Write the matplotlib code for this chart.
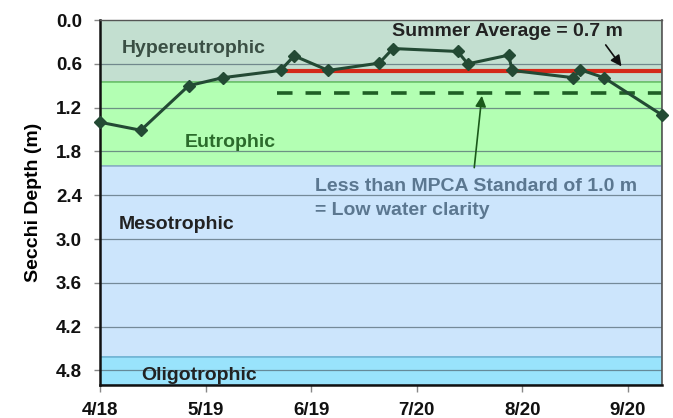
import numpy as np
import pandas as pd
import matplotlib
matplotlib.use("Agg")
import matplotlib.pyplot as plt

plt.rcParams['font.family'] = ['Liberation Sans', 'DejaVu Sans']
plt.rcParams['font.weight'] = 'bold'

# sample dates and secchi depths (m)
dates = pd.to_datetime(['2010-04-18', '2010-04-30', '2010-05-14', '2010-05-24',
                        '2010-06-10', '2010-06-14', '2010-06-24', '2010-07-09',
                        '2010-07-13', '2010-08-01', '2010-08-04', '2010-08-16',
                        '2010-08-17', '2010-09-04', '2010-09-06', '2010-09-13',
                        '2010-09-30'])
depth = [1.40, 1.51, 0.90, 0.79, 0.69, 0.49, 0.69, 0.59, 0.39, 0.43, 0.60,
         0.48, 0.69, 0.79, 0.68, 0.79, 1.30]

tick_dates = pd.to_datetime(['2010-04-18', '2010-05-19', '2010-06-19',
                             '2010-07-20', '2010-08-20', '2010-09-20'])
tick_labels = ['4/18', '5/19', '6/19', '7/20', '8/20', '9/20']
yticks = [0.0, 0.6, 1.2, 1.8, 2.4, 3.0, 3.6, 4.2, 4.8]

# trophic bands
band_names = ['Hypereutrophic', 'Eutrophic', 'Mesotrophic', 'Oligotrophic']
band_tops = [0.0, 0.85, 2.0, 4.62]
band_bottoms = [0.85, 2.0, 4.62, 5.0]
band_fill = ['#c3dfd0', '#b3ffb3', '#cce5fc', '#99e3fc']
band_edge = ['#8aa898', '#6cc46c', '#8fb0cc', '#6fb6d6']

summer_avg = 0.7
avg_start = pd.Timestamp('2010-06-10')
standard = 1.0
std_start = pd.Timestamp('2010-06-09')
x_start = pd.Timestamp('2010-04-18')
x_end = pd.Timestamp('2010-09-30')

fig = plt.figure(figsize=(6.73, 4.18), dpi=100)
ax = fig.add_axes([0.1486, 0.079, 0.835, 0.873])

for top, bot, fc, ec in zip(band_tops, band_bottoms, band_fill, band_edge):
    ax.axhspan(top, bot, facecolor=fc, edgecolor=ec, linewidth=1.2, zorder=0)

for yv in yticks[1:]:
    ax.axhline(yv, color='#4f6470', lw=0.9, alpha=0.7, zorder=1)

ax.plot([avg_start, x_end], [summer_avg, summer_avg], color='#d42a1a', lw=3, zorder=2)
ax.plot([std_start, x_end], [standard, standard], color='#1f5f25', lw=2.6,
        dashes=(4.3, 3.6), zorder=2)

ax.plot(dates, depth, color='#234a34', lw=2.2, marker='D', markersize=6.3,
        markerfacecolor='#234a34', markeredgecolor='#234a34', zorder=4,
        clip_on=False)

ax.set_xlim(x_start, x_end)
ax.set_ylim(5.0, 0.0)
ax.set_yticks(yticks)
ax.set_yticklabels(['%.1f' % v for v in yticks])
ax.set_xticks(tick_dates)
ax.set_xticklabels(tick_labels)

ax.tick_params(axis='y', direction='out', length=4, width=1, color='#888888',
               labelsize=13.5, pad=9)
ax.tick_params(axis='x', direction='out', length=5, width=1, color='#888888',
               labelsize=13.5, pad=7)
for lab in ax.get_xticklabels() + ax.get_yticklabels():
    lab.set_fontweight('bold')
    lab.set_color('#111111')

ax.set_ylabel('Secchi Depth (m)', fontsize=14, fontweight='bold', labelpad=10)

ax.spines['left'].set_linewidth(1.8)
ax.spines['bottom'].set_linewidth(1.8)
ax.spines['left'].set_color('#111111')
ax.spines['bottom'].set_color('#111111')
ax.spines['top'].set_color('#555555')
ax.spines['right'].set_color('#555555')
ax.spines['top'].set_linewidth(1.0)
ax.spines['right'].set_linewidth(1.2)

def day(n):
    return x_start + pd.Timedelta(days=n)

fs = 14
ax.text(day(27.6), 0.39, 'Hypereutrophic', fontsize=fs, fontweight='bold',
        color='#3a4f44', ha='center', va='center', zorder=5)
ax.text(day(38.2), 1.68, 'Eutrophic', fontsize=fs, fontweight='bold',
        color='#2b6b2b', ha='center', va='center', zorder=5)
ax.text(day(22.5), 2.80, 'Mesotrophic', fontsize=fs, fontweight='bold',
        color='#222222', ha='center', va='center', zorder=5)
ax.text(day(29.2), 4.87, 'Oligotrophic', fontsize=fs, fontweight='bold',
        color='#222222', ha='center', va='center', zorder=5)

ax.text(day(85.6), 0.15, 'Summer Average = 0.7 m', fontsize=fs,
        fontweight='bold', color='#222222', ha='left', va='center', zorder=5)
ax.annotate('', xy=(day(153.6), 0.665), xytext=(day(148), 0.31),
            arrowprops=dict(arrowstyle='-|>', color='#111111', lw=1.2,
                            mutation_scale=16), zorder=5)

ax.text(day(63.1), 2.28, 'Less than MPCA Standard of 1.0 m', fontsize=fs,
        fontweight='bold', color='#5b7790', ha='left', va='center', zorder=5)
ax.text(day(63.1), 2.61, '= Low water clarity', fontsize=fs,
        fontweight='bold', color='#5b7790', ha='left', va='center', zorder=5)
ax.annotate('', xy=(day(112.2), 1.0), xytext=(day(109.8), 2.06),
            arrowprops=dict(arrowstyle='-|>', color='#1a5a1a', lw=1.2,
                            mutation_scale=16), zorder=5)

fig.savefig('out.png', dpi=100)
